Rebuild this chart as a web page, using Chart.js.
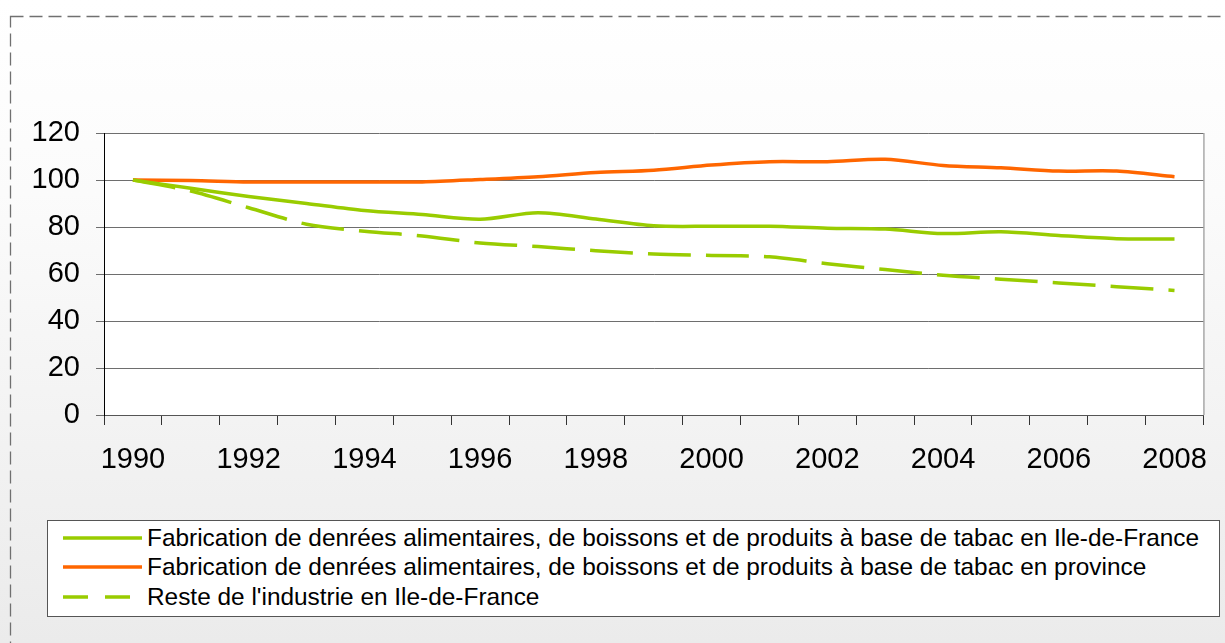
<!DOCTYPE html>
<html>
<head>
<meta charset="utf-8">
<script src="https://cdn.jsdelivr.net/npm/chart.js@4"></script>
<style>
  html, body { margin: 0; padding: 0; }
  body {
    width: 1225px; height: 643px; overflow: hidden; position: relative;
    background: linear-gradient(to bottom, #ffffff 0%, #fbfbfb 30%, #ebebeb 100%);
    font-family: "Liberation Sans", Arial, sans-serif;
  }
  #frame { position: absolute; left: 0; top: 0; }
  #chart { position: absolute; left: 0; top: 0; }
  .legend {
    position: absolute; left: 47px; top: 520px; width: 1173px; height: 97px;
    background: #fff; border: 1px solid #555; box-sizing: border-box;
    padding-top: 2px;
  }
  .legend .row { height: 29.5px; display: flex; align-items: center; font-size: 24.4px; color: #000; }
  .legend svg { margin-left: 15px; margin-right: 5px; flex: none; }
</style>
</head>
<body>
<svg id="frame" width="1225" height="643">
  <rect x="10.5" y="16.5" width="1400" height="800" fill="none" stroke="#707070" stroke-width="1.3" stroke-dasharray="13 6"/>
</svg>
<canvas id="chart" width="1225" height="643"></canvas>
<div class="legend" id="legend"></div>

<script>
// années
const years = ['1990','1991','1992','1993','1994','1995','1996','1997','1998','1999',
               '2000','2001','2002','2003','2004','2005','2006','2007','2008'];

// IAA en Ile-de-France
const idfFood = [100, 96.5, 93, 90, 87, 85.3, 83.3, 86.1, 83.4, 80.5, 80.3, 80.3, 79.5, 79.1, 77.2, 78, 76.4, 75, 74.9];
// IAA en province
const province = [100, 99.8, 99.2, 99.2, 99.2, 99.2, 100.2, 101.4, 103.2, 104.2, 106.4, 107.8, 107.8, 108.8, 106.2, 105.2, 103.8, 103.8, 101.4];
// reste de l'industrie en IdF
const resteIdf = [100, 95.3, 88.2, 81.2, 78.2, 76.2, 73.2, 71.7, 69.9, 68.5, 67.9, 67.3, 64.4, 61.9, 59.5, 57.8, 56.2, 54.6, 53];

const yTicks = [0, 20, 40, 60, 80, 100, 120];

const labels = [
    'Fabrication de denrées alimentaires, de boissons et de produits à base de tabac en Ile-de-France',
    'Fabrication de denrées alimentaires, de boissons et de produits à base de tabac en province',
    "Reste de l'industrie en Ile-de-France"
];

const vert = '#99cc00';
const orange = '#ff6600';

// fond blanc + bord droit de la zone de tracé
const plotBox = {
    id: 'plotBox',
    beforeDraw(chart) {
        const a = chart.chartArea, ctx = chart.ctx;
        ctx.save();
        ctx.fillStyle = '#fff';
        ctx.fillRect(a.left, a.top, a.right - a.left, a.bottom - a.top);
        ctx.restore();
    },
    afterDraw(chart) {
        const a = chart.chartArea, ctx = chart.ctx;
        ctx.save();
        ctx.strokeStyle = '#808080';
        ctx.lineWidth = 1;
        ctx.beginPath();
        ctx.moveTo(a.right + 0.5, a.top);
        ctx.lineTo(a.right + 0.5, a.bottom);
        ctx.stroke();
        ctx.restore();
    }
};

new Chart(document.getElementById('chart'), {
    type: 'line',
    data: {
        labels: years,
        datasets: [{
            label: labels[0],
            data: idfFood,
            borderColor: vert,
            borderWidth: 3.5,
            tension: 0.3
        }, {
            label: labels[1],
            data: province,
            borderColor: orange,
            borderWidth: 3.5,
            tension: 0.3
        }, {
            label: labels[2],
            data: resteIdf,
            borderColor: vert,
            borderWidth: 3.5,
            borderDash: [43, 15],
            tension: 0.3
        }]
    },
    options: {
        responsive: false,
        animation: false,
        devicePixelRatio: 1,
        elements: { point: { radius: 0 } },
        layout: { padding: { top: 133, right: 9, left: 0, bottom: 158 } },
        plugins: { legend: { display: false }, tooltip: { enabled: false } },
        scales: {
            x: {
                offset: true,
                grid: { offset: true, drawOnChartArea: false, tickLength: 10, color: '#333', lineWidth: 1 },
                border: { color: '#555', width: 1 },
                ticks: {
                    autoSkip: false, maxRotation: 0, padding: 18,
                    color: '#000',
                    font: { family: 'Liberation Sans', size: 29 },
                    callback: (v, i) => i % 2 === 0 ? years[i] : ''
                },
                afterFit: s => { s.height = 70; }
            },
            y: {
                min: 0, max: 120,
                afterBuildTicks: s => { s.ticks = yTicks.map(v => ({ value: v })); },
                grid: { color: '#6e6e6e', lineWidth: 1, tickLength: 8 },
                border: { color: '#000', width: 1 },
                ticks: {
                    padding: 16, color: '#000',
                    font: { family: 'Liberation Sans', size: 29 }
                },
                afterFit: s => { s.width = 104; }
            }
        }
    },
    plugins: [plotBox]
});

// légende
const legend = document.getElementById('legend');
const samples = [
    `<line x1="0" y1="6" x2="79" y2="6" stroke="${vert}" stroke-width="3.5"/>`,
    `<line x1="0" y1="6" x2="79" y2="6" stroke="${orange}" stroke-width="3.5"/>`,
    `<line x1="0" y1="6" x2="79" y2="6" stroke="${vert}" stroke-width="3.5" stroke-dasharray="25 17"/>`
];
labels.forEach((txt, i) => {
    const row = document.createElement('div');
    row.className = 'row';
    row.innerHTML = `<svg width="79" height="12">${samples[i]}</svg><span>${txt}</span>`;
    legend.appendChild(row);
});
</script>
</body>
</html>
